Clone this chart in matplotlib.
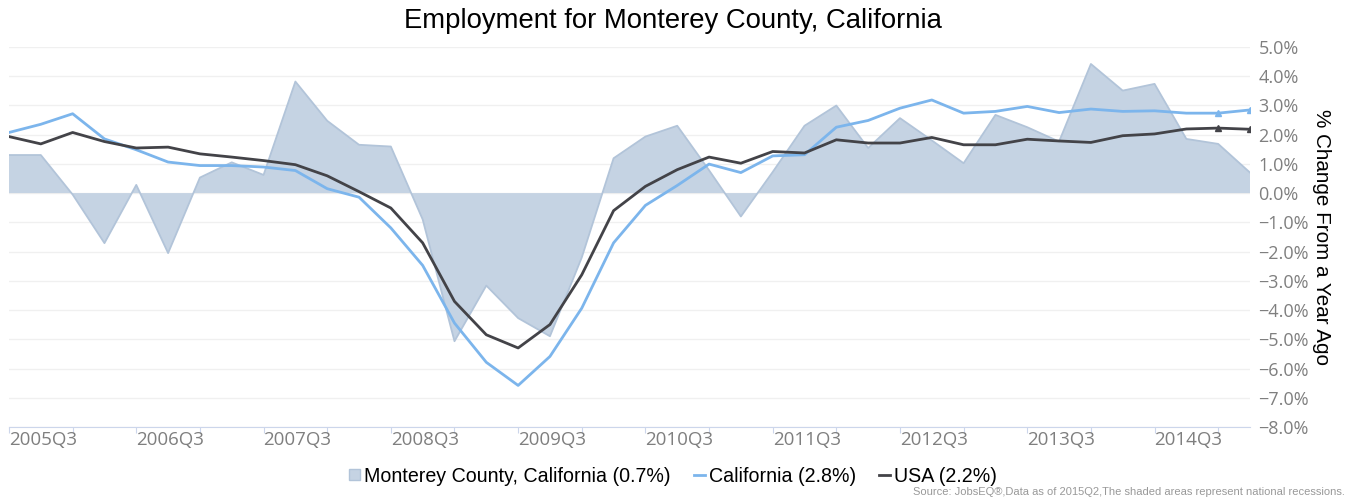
import numpy as np
import matplotlib.pyplot as plt
from matplotlib.lines import Line2D
from matplotlib.patches import Rectangle

# quarters 2005Q3 .. 2015Q2
quarters = [f"{y}Q{q}" for y in range(2005, 2016) for q in range(1, 5)][2:42]

monterey = [1.3, 1.3, -0.05, -1.71, 0.28, -2.05, 0.53, 1.05, 0.62, 3.81,
            2.47, 1.65, 1.59, -0.9, -5.06, -3.16, -4.27, -4.89, -2.2, 1.19,
            1.93, 2.30, 0.78, -0.8, 0.72, 2.30, 2.99, 1.54, 2.56, 1.8,
            1.02, 2.67, 2.25, 1.76, 4.41, 3.50, 3.73, 1.85, 1.68, 0.70]
california = [2.07, 2.35, 2.71, 1.85, 1.48, 1.06, 0.94, 0.94, 0.89, 0.77,
              0.15, -0.14, -1.19, -2.47, -4.44, -5.78, -6.57, -5.58, -3.93, -1.70,
              -0.42, 0.26, 0.99, 0.70, 1.27, 1.31, 2.25, 2.48, 2.90, 3.18,
              2.73, 2.79, 2.96, 2.75, 2.87, 2.79, 2.81, 2.73, 2.73, 2.84]
usa = [1.93, 1.68, 2.07, 1.76, 1.54, 1.57, 1.34, 1.23, 1.11, 0.97,
       0.59, 0.05, -0.51, -1.70, -3.70, -4.84, -5.29, -4.49, -2.79, -0.6,
       0.23, 0.80, 1.23, 1.02, 1.42, 1.37, 1.82, 1.71, 1.71, 1.90,
       1.65, 1.65, 1.84, 1.78, 1.73, 1.96, 2.02, 2.19, 2.22, 2.18]

legend_labels = ["Monterey County, California (0.7%)", "California (2.8%)", "USA (2.2%)"]

area_color = "#c5d3e3"
area_edge = "#b2c4d9"
ca_color = "#7cb5ec"
us_color = "#434348"
label_grey = "#7f7f7f"

plt.rcParams["font.family"] = ["Liberation Sans", "DejaVu Sans"]
tick_font = ["Open Sans", "DejaVu Sans"]

fig = plt.figure(figsize=(13.49, 5.01), dpi=100)
ax = fig.add_axes([9 / 1349, 1 - 427.3 / 501, (1250 - 9) / 1349, (427.3 - 46.7) / 501])

x = np.arange(len(quarters))

# gridlines
for v in range(-8, 6):
    ax.axhline(v, color="#f0f0f0", lw=1, zorder=0)

ax.fill_between(x, 0, monterey, facecolor=area_color, edgecolor="none", zorder=1)
ax.plot(x, monterey, color=area_edge, lw=1.3, zorder=2)
ax.plot(x, california, color=ca_color, lw=2, zorder=3)
ax.plot(x, usa, color=us_color, lw=2, zorder=4)
ax.plot(x[-2:], california[-2:], ls="none", marker="^", ms=4, color=ca_color, zorder=5)
ax.plot(x[-2:], usa[-2:], ls="none", marker="^", ms=4, color=us_color, zorder=5)

ax.set_xlim(0, len(quarters) - 1)
ax.set_ylim(-8, 5)

for s in ["top", "left", "right"]:
    ax.spines[s].set_visible(False)
ax.spines["bottom"].set_color("#ccd6eb")

ax.set_xticks(x[::2])
ax.set_xticklabels([])
ax.tick_params(axis="x", length=4, color="#ccd6eb")
for i in range(0, len(quarters), 4):
    ax.text(i, -8.43, quarters[i], ha="left", va="center", fontsize=13.5,
            color=label_grey, family=tick_font)

ax.yaxis.tick_right()
ax.set_yticks(range(-8, 6))
ax.set_yticklabels([f"{v:.1f}%".replace("-", "\u2212") for v in range(-8, 6)],
                   fontsize=13, color=label_grey, family=tick_font)
ax.tick_params(axis="y", length=0, pad=6)

fig.text(1322 / 1349, 1 - 237 / 501, "% Change From a Year Ago", rotation=-90,
         ha="center", va="center", fontsize=14.9)
fig.text(673 / 1349, 1 - 21 / 501, "Employment for Monterey County, California",
         ha="center", va="center", fontsize=19.8)

handles = [Rectangle((0, 0), 1, 1, facecolor=area_color, edgecolor=area_edge),
           Line2D([], [], color=ca_color, lw=2),
           Line2D([], [], color=us_color, lw=2)]
fig.legend(handles, legend_labels, loc="center", bbox_to_anchor=(673 / 1349, 1 - 476 / 501),
           ncol=3, frameon=False, fontsize=14.1, handlelength=0.55, handleheight=0.55,
           handletextpad=0.2, columnspacing=1.2)

fig.text(1345 / 1349, 1 - 492 / 501,
         "Source: JobsEQ\u00ae,Data as of 2015Q2,The shaded areas represent national recessions.",
         ha="right", va="center", fontsize=8, color="#999999")

fig.savefig("out.png", dpi=100)
